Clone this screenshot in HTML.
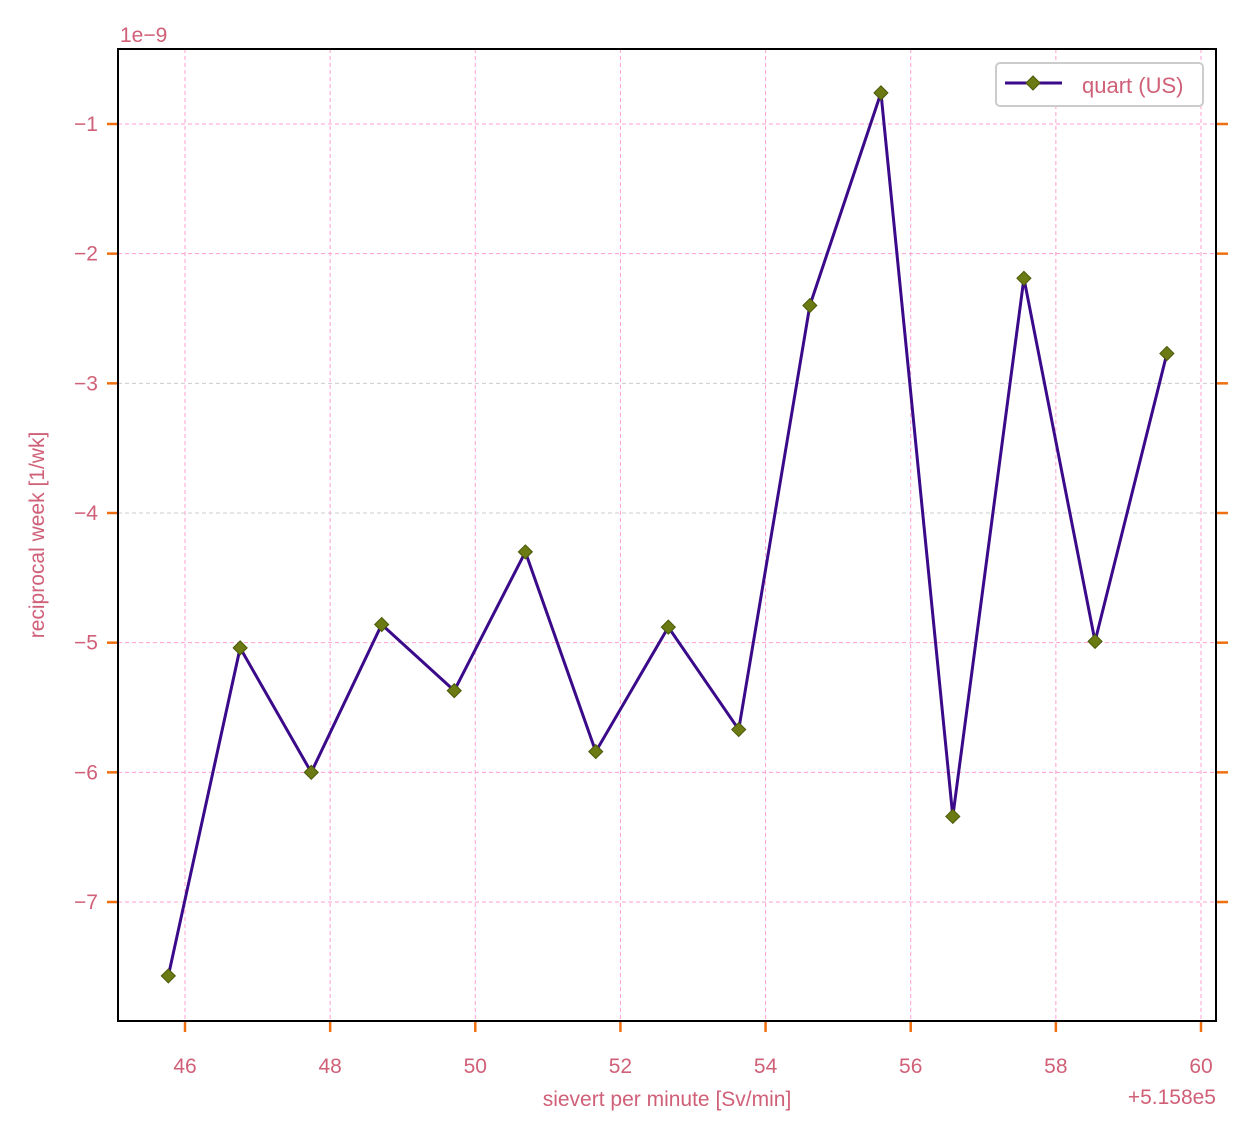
<!DOCTYPE html>
<html><head><meta charset="utf-8"><style>
body{margin:0;background:#fff}
svg text{font-family:"Liberation Sans","DejaVu Sans",sans-serif;fill:#d06078}
</style></head><body>
<svg id="chart" width="1254" height="1137">
<g id="grid"></g>
<g id="ticks"></g>
<g id="series"></g>
<rect x="118" y="49" width="1098" height="972" fill="none" stroke="#000" stroke-width="2"/>
<text x="120" y="42" font-size="21">1e−9</text>
<text x="667" y="1106" font-size="21" text-anchor="middle">sievert per minute [Sv/min]</text>
<text x="1216" y="1104" font-size="21" text-anchor="end">+5.158e5</text>
<text transform="translate(44,535) rotate(-90)" font-size="21" text-anchor="middle">reciprocal week [1/wk]</text>
<g>
<rect x="996" y="63" width="207" height="43" rx="4" fill="#fff" stroke="#ccc" stroke-width="2"/>
<line x1="1005" y1="83" x2="1062" y2="83" stroke="#3a0a8a" stroke-width="3"/>
<path d="M1033 76 L1040 83 L1033 90 L1026 83 Z" fill="#6b7a12" stroke="#4a5a0a"/>
<text x="1082" y="93" font-size="22">quart (US)</text>
</g>
</svg>
<script>
const xs=[45.77,46.76,47.74,48.71,49.71,50.69,51.66,52.66,53.63,54.61,55.59,56.58,57.56,58.54,59.53];
const ys=[-7.57,-5.04,-6.00,-4.86,-5.37,-4.30,-5.84,-4.88,-5.67,-2.40,-0.76,-6.34,-2.19,-4.99,-2.77];
const xTicks=[46,48,50,52,54,56,58,60];
const yTicks=[-1,-2,-3,-4,-5,-6,-7];
const NS="http://www.w3.org/2000/svg";
const X=v=>185+(v-46)*(1016/14);
const Y=v=>124+(-1-v)*129.67;
function mk(p,t,a){const e=document.createElementNS(NS,t);for(const k in a)e.setAttribute(k,a[k]);p.appendChild(e);return e;}
const grid=document.getElementById('grid'),ticks=document.getElementById('ticks'),ser=document.getElementById('series');
xTicks.forEach(t=>{const x=X(t);
 const g=mk(grid,'line',{x1:x,x2:x,y1:49,y2:1021,stroke:'#ff9fd0','stroke-width':1,'stroke-dasharray':'4,3'});
 
 
 const k=mk(ticks,'line',{x1:x,x2:x,y1:1021,y2:1032,stroke:'#f07010','stroke-width':2.5});
 
 
 const l=mk(ticks,'text',{x:x,y:1073,'font-size':21,'text-anchor':'middle'});l.textContent=t;
 
 
});
yTicks.forEach(t=>{const y=Y(t);
 const g=mk(grid,'line',{x1:118,x2:1216,y1:y,y2:y,stroke:(t==-3||t==-4)?'#ccc':'#ff9fd0','stroke-width':1,'stroke-dasharray':'4,3'});
 
 
 const k=mk(ticks,'line',{x1:107,x2:118,y1:y,y2:y,stroke:'#f07010','stroke-width':2.5});
 
 
 const k2=mk(ticks,'line',{x1:1216,x2:1228,y1:y,y2:y,stroke:'#f07010','stroke-width':2.5});
 
 
 const l=mk(ticks,'text',{x:98,y:y+7,'font-size':21,'text-anchor':'end'});l.textContent='−'+Math.abs(t);
 
 
});
const pl=mk(ser,'polyline',{points:xs.map((v,i)=>X(v)+','+Y(ys[i])).join(' '),fill:'none',stroke:'#3a0a8a','stroke-width':3,'stroke-linejoin':'round'});


xs.forEach((v,i)=>{const x=X(v),y=Y(ys[i]);
 const m=mk(ser,'path',{d:`M${x} ${y-7} L${x+7} ${y} L${x} ${y+7} L${x-7} ${y} Z`,fill:'#6b7a12',stroke:'#4a5a0a'});
 
 
});
</script>
</body></html>
